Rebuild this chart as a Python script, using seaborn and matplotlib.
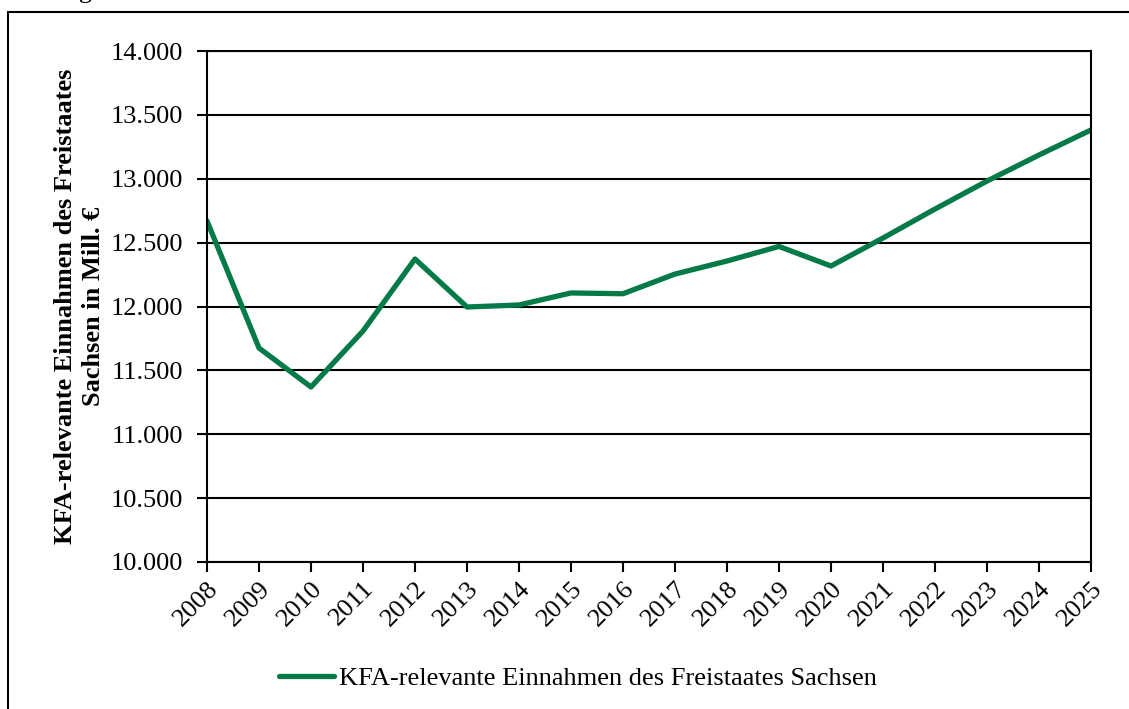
import numpy as np
import pandas as pd
import seaborn as sns
import matplotlib.pyplot as plt
from matplotlib.patches import Rectangle
from matplotlib.lines import Line2D
from matplotlib.ticker import FuncFormatter

# Daten
jahre = list(range(2008, 2026))
einnahmen = [12670, 11675, 11370, 11808, 12372, 11996, 12012, 12106, 12100,
             12254, 12356, 12470, 12317, 12536, 12763, 12982, 13186, 13382]
serie = "KFA-relevante Einnahmen des Freistaates Sachsen"

df = pd.DataFrame({"Jahr": jahre, "Wert": einnahmen, "Serie": serie})

sns.set_style("white")
plt.rcParams['font.family'] = ['Liberation Serif', 'DejaVu Serif']
plt.rcParams['text.color'] = 'black'
plt.rcParams['xtick.color'] = 'black'
plt.rcParams['ytick.color'] = 'black'
plt.rcParams['axes.labelcolor'] = 'black'

gruen = "#037a47"
fs = 19

fig = plt.figure(figsize=(11.29, 7.09), dpi=100)
ax = fig.add_axes([207 / 1129, 1 - 562 / 709, (1091 - 207) / 1129, (562 - 51) / 709])

sns.lineplot(data=df, x="Jahr", y="Wert", hue="Serie", palette=[gruen],
             linewidth=3.8, ax=ax, legend=False)

ax.set_xlim(2008, 2025)
ax.set_ylim(10000, 14000)
ax.set_yticks(np.arange(10000, 14001, 500))
ax.set_xticks(jahre)
ax.yaxis.set_major_formatter(FuncFormatter(lambda v, p: f"{int(v):,}".replace(",", ".")))
ax.set_xticklabels([str(j) for j in jahre], rotation=45, ha="right",
                   rotation_mode="anchor", fontsize=fs)
for t in ax.get_yticklabels():
    t.set_fontsize(fs)

ax.grid(axis="y", color="black", linewidth=1.5)
ax.set_axisbelow(True)
for s in ax.spines.values():
    s.set_color("black")
    s.set_linewidth(1.5)
ax.tick_params(axis="both", direction="out", length=7, width=1.5, color="black",
               left=True, bottom=True)
ax.tick_params(axis="y", pad=10)
ax.tick_params(axis="x", pad=4)

ax.set_xlabel("")
ax.set_ylabel("KFA-relevante Einnahmen des Freistaates\nSachsen in Mill. €",
              fontsize=fs, fontweight="bold", labelpad=4, linespacing=1.3)

# Legende
handle = Line2D([], [], color=gruen, linewidth=3.8)
fig.legend([handle], [serie], loc="center", bbox_to_anchor=(578 / 1129, 1 - 678 / 709),
           frameon=False, fontsize=fs, handlelength=2.1, handletextpad=0.2)

# Rahmen um die Grafik
fig.patches.append(Rectangle((8 / 1129, -0.05), 1.2, 1 - 12 / 709 + 0.05,
                             transform=fig.transFigure, fill=False,
                             edgecolor="black", linewidth=1.5))
# abgeschnittene Überschrift (im Original nur die Unterlänge sichtbar)
fig.text(93 / 1129, 1 + 2 / 709, "Abbildung", ha="right", va="baseline", fontsize=fs)

fig.savefig("out.png", dpi=100)
